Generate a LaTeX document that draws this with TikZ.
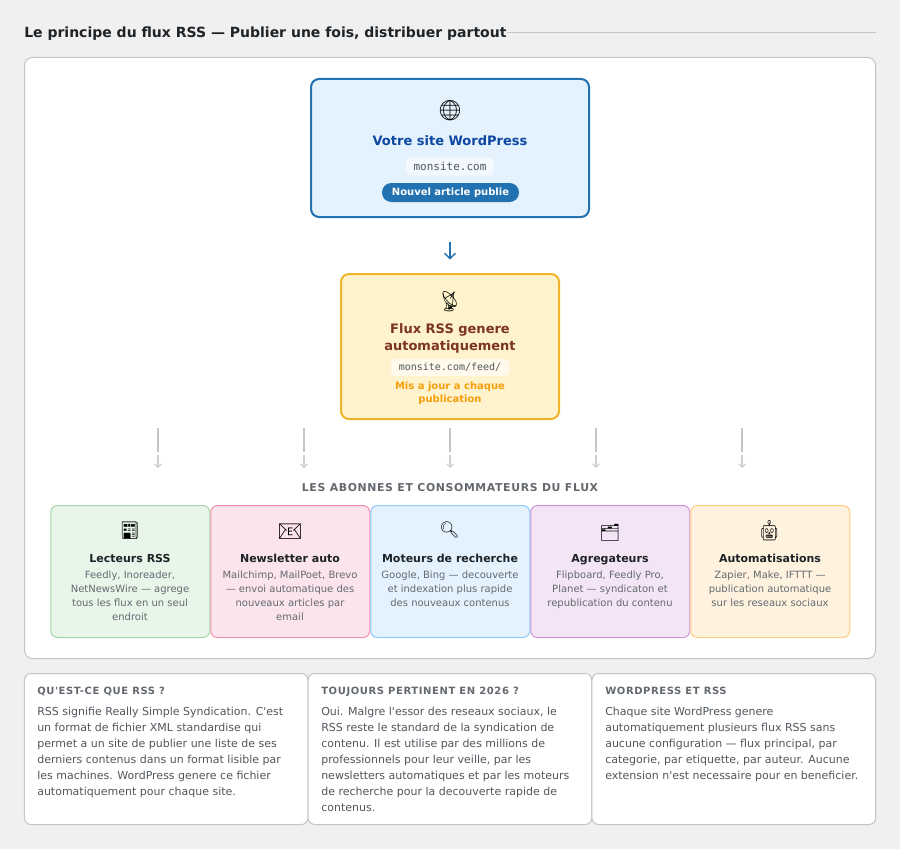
\documentclass[tikz,border=0pt]{standalone}
\usepackage{fontspec}
\usepackage{xcolor}
\usetikzlibrary{arrows.meta}
\setmainfont{DejaVu Sans}[Ligatures=TeXOff]
\setmonofont{DejaVu Sans Mono}
\newfontfamily\emojifont{Noto Emoji}
\newfontfamily\spacedfont[LetterSpace=6,Ligatures=TeXOff,BoldFont={DejaVu Sans Bold}]{DejaVu Sans}
\newcommand{\slimglyph}[1]{\scalebox{0.75}[1]{#1}}
\definecolor{pagebg}{HTML}{F0F0F1}
\definecolor{rulegray}{HTML}{C3C4C7}
\definecolor{inkdark}{HTML}{1D2327}
\definecolor{inkmid}{HTML}{50575E}
\definecolor{inksoft}{HTML}{646970}
\definecolor{wpblue}{HTML}{2271B1}
\definecolor{sitefill}{HTML}{E3F2FD}
\definecolor{sitetitle}{HTML}{0D47A1}
\definecolor{feedfill}{HTML}{FFF3CD}
\definecolor{feedline}{HTML}{F0B429}
\definecolor{feedtitle}{HTML}{7B341E}
\definecolor{feednote}{HTML}{F59E0B}
\definecolor{greenfill}{HTML}{E8F5E9}
\definecolor{greenline}{HTML}{A5D6A7}
\definecolor{pinkfill}{HTML}{FCE4EC}
\definecolor{pinkline}{HTML}{F48FB1}
\definecolor{bluefill}{HTML}{E3F2FD}
\definecolor{blueline}{HTML}{90CAF9}
\definecolor{violetfill}{HTML}{F3E5F5}
\definecolor{violetline}{HTML}{CE93D8}
\definecolor{orangefill}{HTML}{FFF3E0}
\definecolor{orangeline}{HTML}{FFCC80}
\begin{document}
\begin{tikzpicture}[x=0.75pt,y=-0.75pt,
  panel/.style={draw=rulegray,fill=white,rounded corners=6pt,line width=0.75pt},
  sitebox/.style={draw=wpblue,fill=sitefill,rounded corners=6pt,line width=1.5pt,minimum width=208.5pt,minimum height=103.5pt},
  feedbox/.style={draw=feedline,fill=feedfill,rounded corners=6pt,line width=1.5pt,minimum width=163.5pt,minimum height=108.75pt},
  card/.style={rounded corners=5pt,line width=0.75pt,minimum width=119.25pt,minimum height=99pt},
  notebox/.style={draw=rulegray,fill=white,rounded corners=5pt,line width=0.75pt,minimum width=212.75pt,minimum height=113.25pt},
  icon/.style={font=\emojifont\fontsize{15pt}{15pt}\selectfont,text=black},
  boxtitle/.style={font=\bfseries\fontsize{9.75pt}{12.75pt}\selectfont,align=center},
  cardtitle/.style={font=\bfseries\fontsize{8.25pt}{10pt}\selectfont,text=inkdark},
  carddesc/.style={font=\fontsize{7.5pt}{10.5pt}\selectfont,text=inksoft,align=center,anchor=north},
  notehead/.style={font=\spacedfont\bfseries\fontsize{7.5pt}{9pt}\selectfont,text=inksoft,anchor=base west},
  notetext/.style={font=\fontsize{8.25pt}{12pt}\selectfont,text=inkmid,align=left,anchor=north west},
  tapline/.style={draw=rulegray,line width=1.5pt},
  tapfoot/.style={draw=rulegray!80,line width=0.9pt,-{Straight Barb[length=2.5pt,width=5pt]}}]
\tikzstyle{every node}+=[inner sep=0pt]
\useasboundingbox (0,0) rectangle (900,849);
\fill [pagebg] (0,0) rectangle (900,849);
\node [font=\bfseries\fontsize{10.5pt}{12pt}\selectfont,text=inkdark,anchor=base west] (heading) at (24,38) {Le principe du flux RSS — Publier une fois, distribuer partout};
\coordinate (headingend) at (876,32.5);
\draw [rulegray,line width=0.75pt] (heading.east |- headingend) -- (headingend);
\draw [panel] (24.5,57.5) rectangle (875.5,658.5);
\node [sitebox] (site) at (450,148) {};
\node [icon] (siteicon) at (450,110.5) {🌐};
\node [boxtitle,text=sitetitle,anchor=base] (sitename) at (450,146) {Votre site WordPress};
\node [fill=white,fill opacity=0.6,text opacity=1,rounded corners=3pt,minimum width=66pt,minimum height=13.5pt,font=\ttfamily\fontsize{8.25pt}{10pt}\selectfont,text=inkmid] (siteurl) at (450,166.5) {monsite.com};
\node [fill=wpblue,rounded corners=7pt,minimum width=102.75pt,minimum height=14.25pt,font=\bfseries\fontsize{7.5pt}{9pt}\selectfont,text=white] (sitepill) at (450.5,192.5) {Nouvel article publie};
\node [feedbox] (feed) at (450,346.5) {};
\node [icon] (feedicon) at (450,302) {\slimglyph{📡}};
\node [boxtitle,text=feedtitle,anchor=north] (feedname) at (450,323) {Flux RSS genere\\automatiquement};
\node [fill=white,fill opacity=0.6,text opacity=1,rounded corners=3pt,minimum width=88.5pt,minimum height=12.75pt,font=\ttfamily\fontsize{7.5pt}{9pt}\selectfont,text=inkmid] (feedurl) at (450,367.5) {monsite.com/feed/};
\node [font=\bfseries\fontsize{7.5pt}{9.75pt}\selectfont,text=feednote,align=center,anchor=north] (feednote) at (450,382) {Mis a jour a chaque\\publication};
\draw [wpblue,line width=1.1pt,shorten <=18pt,shorten >=10pt,-{Straight Barb[length=4pt,width=8pt]}] (site) -- (feed);
\coordinate (taptopa) at (158,428);
\coordinate (tapmida) at (158,452);
\coordinate (tapenda) at (158,468);
\coordinate (taptopb) at (304,428);
\coordinate (tapmidb) at (304,452);
\coordinate (tapendb) at (304,468);
\coordinate (taptopc) at (450,428);
\coordinate (tapmidc) at (450,452);
\coordinate (tapendc) at (450,468);
\coordinate (taptopd) at (596,428);
\coordinate (tapmidd) at (596,452);
\coordinate (tapendd) at (596,468);
\coordinate (taptope) at (742,428);
\coordinate (tapmide) at (742,452);
\coordinate (tapende) at (742,468);
\draw [tapline] (taptopa) -- (tapmida);
\draw [tapfoot] (tapmida) ++(0,3) -- (tapenda);
\draw [tapline] (taptopb) -- (tapmidb);
\draw [tapfoot] (tapmidb) ++(0,3) -- (tapendb);
\draw [tapline] (taptopc) -- (tapmidc);
\draw [tapfoot] (tapmidc) ++(0,3) -- (tapendc);
\draw [tapline] (taptopd) -- (tapmidd);
\draw [tapfoot] (tapmidd) ++(0,3) -- (tapendd);
\draw [tapline] (taptope) -- (tapmide);
\draw [tapfoot] (tapmide) ++(0,3) -- (tapende);
\node [font=\spacedfont\bfseries\fontsize{8.15pt}{10pt}\selectfont,text=inksoft,anchor=base] (readers) at (450,491) {LES ABONNES ET CONSOMMATEURS DU FLUX};
\node [card,draw=greenline,fill=greenfill] (carda) at (130.25,571.5) {};
\node [card,draw=pinkline,fill=pinkfill] (cardb) at (290.25,571.5) {};
\node [card,draw=blueline,fill=bluefill] (cardc) at (450.25,571.5) {};
\node [card,draw=violetline,fill=violetfill] (cardd) at (610.25,571.5) {};
\node [card,draw=orangeline,fill=orangefill] (carde) at (770.25,571.5) {};
\node [icon] (icona) at (130,531) {\slimglyph{📰}};
\node [icon] (iconb) at (290,532) {📧};
\node [icon,font=\emojifont\fontsize{12pt}{12pt}\selectfont] (iconc) at (449.5,530.5) {🔍};
\node [icon,font=\emojifont\fontsize{12.5pt}{12.5pt}\selectfont] (icond) at (610,532.5) {🗂};
\node [icon] (icone) at (769.5,531) {\slimglyph{🤖}};
\node [cardtitle,anchor=base] (namea) at (130,562) {Lecteurs RSS};
\node [cardtitle,anchor=base] (nameb) at (290,562) {Newsletter auto};
\node [cardtitle,anchor=base] (namec) at (450,562) {Moteurs de recherche};
\node [cardtitle,anchor=base] (named) at (610,562) {Agregateurs};
\node [cardtitle,anchor=base] (namee) at (770,562) {Automatisations};
\node [carddesc] (desca) at (130,571) {Feedly, Inoreader,\\NetNewsWire — agrege\\tous les flux en un seul\\endroit};
\node [carddesc] (descb) at (290,571) {Mailchimp, MailPoet, Brevo\\— envoi automatique des\\nouveaux articles par\\email};
\node [carddesc] (descc) at (450,571) {Google, Bing — decouverte\\et indexation plus rapide\\des nouveaux contenus};
\node [carddesc] (descd) at (610,571) {Flipboard, Feedly Pro,\\Planet — syndicaton et\\republication du contenu};
\node [carddesc] (desce) at (770,571) {Zapier, Make, IFTTT —\\publication automatique\\sur les reseaux sociaux};
\node [notebox] (notea) at (166.25,749) {};
\node [notebox] (noteb) at (450,749) {};
\node [notebox] (notec) at (733.75,749) {};
\node [notehead] (heada) at (37,694) {QU'EST-CE QUE RSS ?};
\node [notehead] (headb) at (321,694) {TOUJOURS PERTINENT EN 2026 ?};
\node [notehead] (headc) at (605,694) {WORDPRESS ET RSS};
\node [notetext] (texta) at (37,707) {RSS signifie Really Simple Syndication. C'est\\un format de fichier XML standardise qui\\permet a un site de publier une liste de ses\\derniers contenus dans un format lisible par\\les machines. WordPress genere ce fichier\\automatiquement pour chaque site.};
\node [notetext] (textb) at (321,707) {Oui. Malgre l'essor des reseaux sociaux, le\\RSS reste le standard de la syndication de\\contenu. Il est utilise par des millions de\\professionnels pour leur veille, par les\\newsletters automatiques et par les moteurs\\de recherche pour la decouverte rapide de\\contenus.};
\node [notetext] (textc) at (605,707) {Chaque site WordPress genere\\automatiquement plusieurs flux RSS sans\\aucune configuration — flux principal, par\\categorie, par etiquette, par auteur. Aucune\\extension n'est necessaire pour en beneficier.};
\end{tikzpicture}
\end{document}
